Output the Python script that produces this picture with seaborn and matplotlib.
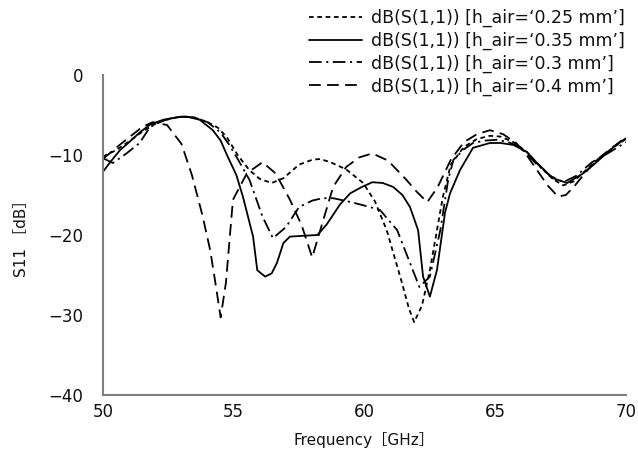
import matplotlib
matplotlib.use("Agg")
import matplotlib.pyplot as plt
import seaborn as sns
import pandas as pd

# ---- data ----
labels = ["dB(S(1,1)) [h_air=‘0.25 mm’]",
          "dB(S(1,1)) [h_air=‘0.35 mm’]",
          "dB(S(1,1)) [h_air=‘0.3 mm’]",
          "dB(S(1,1)) [h_air=‘0.4 mm’]"]

x_025 = [50, 50.5, 51, 51.5, 52, 52.5, 53, 53.5, 54, 54.4, 54.74, 55.15, 55.6, 56.0, 56.45,
         56.9, 57.5, 58.0, 58.3, 58.7, 59.3, 59.95, 60.4, 60.85, 61.4, 61.7, 61.9, 62.2, 62.5,
         63.0, 63.3, 63.8, 64.3, 64.8, 65.2, 65.7, 66.2, 66.7, 67.2, 67.6, 68.0, 68.5, 69.0,
         69.5, 70]
y_025 = [-10.2, -9.4, -8.3, -7.1, -6.1, -5.5, -5.2, -5.3, -5.9, -6.6, -7.8, -10.0, -11.9, -13.0, -13.5,
         -12.9, -11.2, -10.6, -10.5, -10.9, -11.8, -13.5, -15.8, -19.4, -25.6, -29.2, -30.9, -28.8, -24.4,
         -15.2, -11.2, -9.0, -8.0, -7.6, -7.7, -8.4, -9.6, -11.4, -13.0, -13.8, -13.3, -11.8, -10.3,
         -9.1, -8.0]

x_035 = [50, 50.3, 50.65, 51, 51.4, 51.8, 52.3, 52.8, 53.2, 53.7, 54.2, 54.5, 54.74, 55.1, 55.35,
         55.74, 55.9, 56.2, 56.45, 56.65, 56.9, 57.15, 57.65, 58.2, 58.55, 59.06, 59.45, 59.9, 60.3,
         60.7, 61.1, 61.45, 61.74, 62.05, 62.24, 62.5, 62.77, 63.08, 63.27, 63.65, 64.15, 64.8, 65.2,
         65.7, 66.2, 66.6, 67.2, 67.75, 68.36, 68.8, 69.27, 69.6, 70]
y_035 = [-12.1, -10.8, -9.4, -8.4, -7.2, -6.2, -5.6, -5.3, -5.2, -5.6, -6.9, -8.2, -10.0, -12.5, -15.2,
         -20.2, -24.4, -25.2, -24.8, -23.5, -21.0, -20.2, -20.1, -20.0, -18.7, -16.2, -14.8, -14.0, -13.4,
         -13.5, -14.0, -15.0, -16.5, -19.4, -25.2, -27.7, -24.4, -17.2, -14.8, -11.9, -9.1, -8.5, -8.5,
         -8.75, -9.6, -11.0, -12.9, -13.5, -12.3, -11.1, -9.75, -8.8, -7.9]

x_03 = [50, 50.38, 50.9, 51.4, 51.8, 52.3, 53.0, 53.5, 54.0, 54.5, 54.8, 55.1, 55.6, 56.1, 56.5,
        57.0, 57.5, 58.0, 58.4, 58.8, 59.5, 60.2, 60.6, 61.25, 61.74, 62.1, 62.5, 62.9, 63.2,
        63.4, 63.8, 64.15, 64.6, 65.07, 65.5, 65.95, 66.6, 67.1, 67.6, 68.1, 68.7, 69.3, 70]
y_03 = [-10.4, -11.0, -9.8, -8.5, -6.5, -5.7, -5.2, -5.3, -5.9, -7.2, -8.6, -10.2, -13.1, -17.7, -20.4,
        -19.0, -16.5, -15.7, -15.4, -15.4, -15.9, -16.5, -16.9, -19.4, -23.5, -26.5, -25.2, -19.4, -13.1,
        -10.6, -9.3, -8.5, -8.2, -8.1, -8.4, -9.0, -11.2, -12.6, -13.4, -12.6, -10.9, -9.8, -8.4]

x_04 = [50, 50.5, 51, 51.5, 51.9, 52.45, 53.0, 53.4, 53.8, 54.1, 54.3, 54.5, 54.7, 54.97, 55.5,
        56.1, 56.6, 57.15, 57.6, 58.0, 58.3, 58.8, 59.3, 59.8, 60.3, 60.9, 61.6, 62.0, 62.4,
        62.8, 63.3, 63.8, 64.3, 64.8, 65.3, 65.8, 66.2, 66.6, 67.0, 67.4, 67.7, 68.0, 68.5,
        69.0, 69.5, 70]
y_04 = [-10.5, -9.1, -7.8, -6.5, -5.9, -6.25, -8.6, -12.5, -17.5, -21.9, -26.0, -30.3, -26.0, -15.6, -12.3,
        -10.9, -12.3, -15.6, -18.8, -22.8, -19.5, -14.0, -11.5, -10.3, -9.8, -10.7, -13.1, -14.6, -15.9,
        -14.0, -10.6, -8.4, -7.4, -6.9, -7.4, -8.5, -10.0, -11.9, -13.8, -15.2, -15.0, -14.0, -12.0,
        -10.3, -9.0, -7.8]

xs = [x_025, x_035, x_03, x_04]
ys = [y_025, y_035, y_03, y_04]

x_ticks = [50, 55, 60, 65, 70]
y_ticks = [0, -10, -20, -30, -40]

# ---- build long table ----
frames = []
for lab, xv, yv in zip(labels, xs, ys):
    frames.append(pd.DataFrame({"freq": xv, "s11": yv, "series": lab}))
df = pd.concat(frames, ignore_index=True)

sns.set_theme(style="white")
plt.rcParams["font.family"] = ["DejaVu Sans", "Noto Sans CJK JP"]
plt.rcParams["axes.unicode_minus"] = True

fig = plt.figure(figsize=(6.38, 4.62), dpi=100)
ax = fig.add_axes([0.1614, 0.145, 0.8198, 0.6927])

dash_map = {labels[0]: (2.6, 2.0),
            labels[1]: "",
            labels[2]: (7, 2.5, 1.2, 2.5),
            labels[3]: (6.5, 3.5)}

sns.lineplot(data=df, x="freq", y="s11", style="series", style_order=labels,
             dashes=dash_map, color="black", linewidth=1.3, estimator=None,
             sort=False, legend=False, ax=ax)

ax.set_xlim(50, 70)
ax.set_ylim(-40, 0)
ax.set_xticks(x_ticks)
ax.set_yticks(y_ticks)
ax.set_xticklabels([str(v) for v in x_ticks])
ax.set_yticklabels([str(v).replace("-", "\u2212") for v in y_ticks])

for s in ["top", "right"]:
    ax.spines[s].set_visible(False)
for s in ["left", "bottom"]:
    ax.spines[s].set_color("#808080")
    ax.spines[s].set_linewidth(1.5)
ax.tick_params(axis="both", direction="in", length=6, width=1.2, color="#808080",
               labelsize=12, labelcolor="#111111", pad=6)
ax.tick_params(axis="y", pad=14)

ax.set_xlabel("Frequency［GHz］", fontsize=11, color="#111111", labelpad=8)
ax.set_ylabel("S11 ［dB］", fontsize=11, color="#111111", labelpad=14)

leg = ax.legend(handles=ax.lines[:4], labels=labels, loc="upper right",
                bbox_to_anchor=(1.012, 1.228), frameon=False, fontsize=12.5,
                handlelength=3.05, handletextpad=0.55, labelspacing=0.26,
                borderaxespad=0.0)
for t in leg.get_texts():
    t.set_color("#111111")

fig.savefig("out.png", dpi=100)
